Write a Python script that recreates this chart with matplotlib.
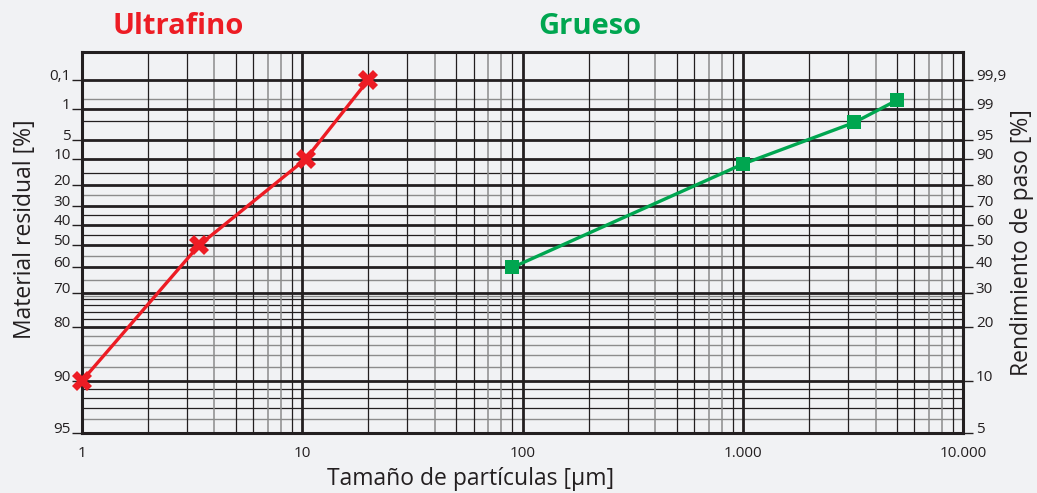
import numpy as np
import matplotlib
matplotlib.use("Agg")
import matplotlib.pyplot as plt
from matplotlib.ticker import NullLocator, FixedLocator, FixedFormatter

# Data (residual % on the left axis)
fine_size = [1, 3.4, 10.4, 20]
fine_residual = [90, 50, 10, 0.1]

coarse_size = [90, 1000, 3200, 5000]
coarse_residual = [60, 11.7, 2.2, 0.55]

# Axis ticks
x_ticks = [1, 10, 100, 1000, 10000]
x_labels = ["1", "10", "100", "1.000", "10.000"]
res_ticks = [0.1, 1, 5, 10, 20, 30, 40, 50, 60, 70, 80, 90, 95]
res_labels = ["0,1", "1", "5", "10", "20", "30", "40", "50", "60", "70", "80", "90", "95"]
pass_labels = ["99,9", "99", "95", "90", "80", "70", "60", "50", "40", "30", "20", "10", "5"]

# Grid of the RRSB paper
major_h = [0.1, 1, 5, 10, 20, 30, 40, 50, 60, 70, 80, 90]
minor_h_dark = [2, 15, 35, 45, 72, 74, 76, 78, 91, 92, 93]
minor_h_gray = [0.5, 25, 55, 65, 71, 82, 84, 86, 88, 94]
decades = [1, 10, 100, 1000]
minor_v_dark = [2, 3, 5, 6, 9]
minor_v_gray = [4, 7, 8]

bg = "#f1f2f4"
ink = "#231f20"
red = "#ed1c24"
green = "#00a650"

plt.rcParams['font.family'] = ['Open Sans', 'DejaVu Sans']


def fwd(r):
    r = np.clip(np.asarray(r, dtype=float), 1e-9, 99.99999)
    return np.log10(-np.log(r / 100.0))


def inv(y):
    return 100.0 * np.exp(-10.0 ** np.asarray(y, dtype=float))


W, H = 1037, 493
fig = plt.figure(figsize=(W / 100, H / 100), dpi=100, facecolor=bg)
ax = fig.add_axes([0.0788, 0.1217, 0.8502, 0.7728])
ax.set_facecolor(bg)
ax.set_xscale("log")
ax.set_yscale("function", functions=(fwd, inv))
ax.set_xlim(1, 10000)
ax.set_ylim(0.0039, 95)

# grid lines
for r in minor_h_gray:
    ax.axhline(r, color="#8c8c8c", lw=1.0, zorder=1)
for r in minor_h_dark:
    ax.axhline(r, color=ink, lw=0.9, zorder=1)
for d in decades:
    for m in minor_v_gray:
        ax.axvline(d * m, color="#8c8c8c", lw=1.1, zorder=1)
    for m in minor_v_dark:
        ax.axvline(d * m, color=ink, lw=0.9, zorder=1)
for r in major_h:
    ax.axhline(r, color=ink, lw=2.0, zorder=1.5)
for d in decades[1:]:
    ax.axvline(d, color=ink, lw=2.0, zorder=1.5)

# series
ax.plot(fine_size, fine_residual, color=red, lw=2.4, marker="X", ms=14,
        mec=red, mew=0, zorder=4, clip_on=False)
ax.plot(coarse_size, coarse_residual, color=green, lw=2.4, marker="s", ms=10.5,
        mew=0, zorder=4, clip_on=False)

for s in ax.spines.values():
    s.set_linewidth(2.2)
    s.set_color(ink)

# x axis
ax.xaxis.set_major_locator(FixedLocator(x_ticks))
ax.xaxis.set_major_formatter(FixedFormatter(x_labels))
ax.xaxis.set_minor_locator(NullLocator())
ax.tick_params(axis="x", length=0, pad=9, labelsize=11, labelcolor=ink)

# left y axis
ax.yaxis.set_major_locator(FixedLocator(res_ticks))
ax.yaxis.set_major_formatter(FixedFormatter(res_labels))
ax.yaxis.set_minor_locator(NullLocator())
ax.tick_params(axis="y", length=7, width=1, color=ink, pad=1, labelsize=11, labelcolor=ink)
for lbl in ax.get_yticklabels():
    lbl.set_verticalalignment("baseline")

# right y axis (passing %)
ax2 = ax.twinx()
ax2.set_yscale("function", functions=(fwd, inv))
ax2.set_ylim(0.0039, 95)
ax2.yaxis.set_major_locator(FixedLocator(res_ticks))
ax2.yaxis.set_major_formatter(FixedFormatter(pass_labels))
ax2.yaxis.set_minor_locator(NullLocator())
ax2.tick_params(axis="y", length=7, width=1, color=ink, pad=2, labelsize=11, labelcolor=ink)
for lbl in ax2.get_yticklabels():
    lbl.set_verticalalignment("baseline")
for s in ax2.spines.values():
    s.set_visible(False)

# axis titles
fig.text(471 / W, 1 - 479 / H, "Tamaño de partículas [µm]", fontsize=16.5, color=ink,
         ha="center", va="center")
fig.text(25 / W, 1 - 229 / H, "Material residual [%]", fontsize=16.5, color=ink,
         ha="center", va="center", rotation=90)
fig.text(1022 / W, 1 - 243 / H, "Rendimiento de paso [%]", fontsize=16.5, color=ink,
         ha="center", va="center", rotation=90)

# titles
fig.text(178 / W, 1 - 26 / H, "Ultrafino", color=red, fontsize=21, fontweight="bold",
         ha="center", va="center")
fig.text(590 / W, 1 - 26 / H, "Grueso", color=green, fontsize=21, fontweight="bold",
         ha="center", va="center")

fig.savefig("out.png", dpi=100, facecolor=bg)
